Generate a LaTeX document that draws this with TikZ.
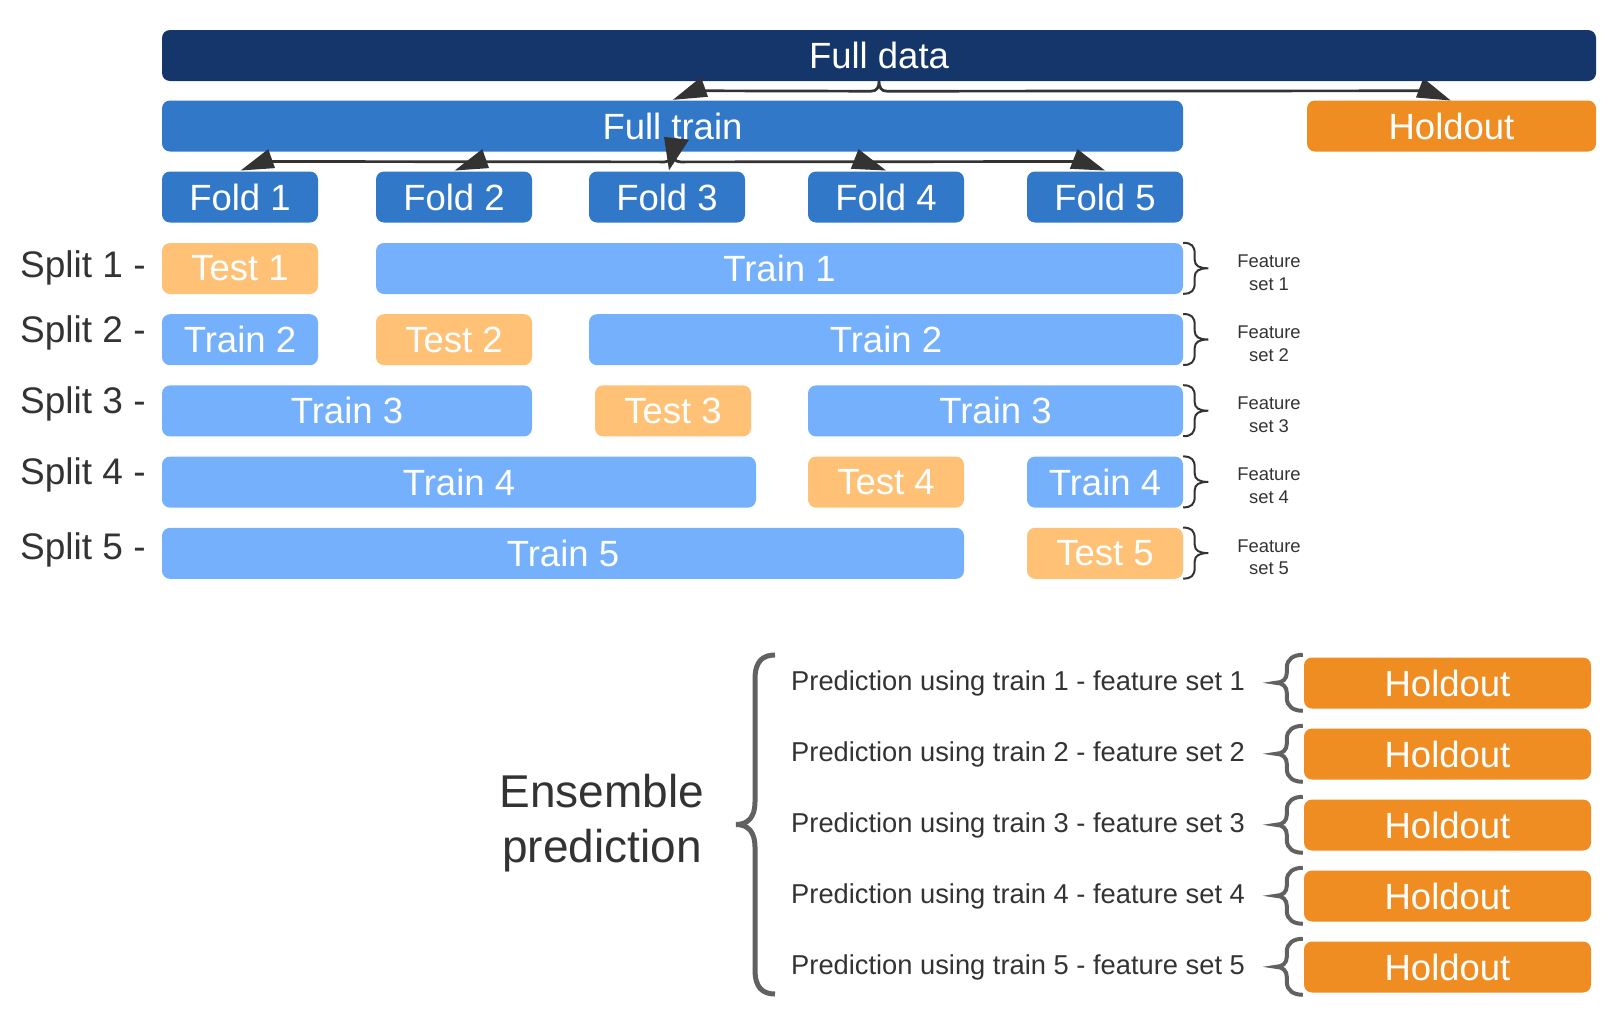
\documentclass[tikz,border=0pt]{standalone}
\usepackage{fontspec}
\setmainfont{Liberation Sans}
\usetikzlibrary{positioning, calc}

\definecolor{DataBlue}{HTML}{14366A}
\definecolor{TrainBlue}{HTML}{3278C9}
\definecolor{SplitBlue}{HTML}{74B0FC}
\definecolor{TestOrange}{HTML}{FFC175}
\definecolor{HoldOrange}{HTML}{EF8D22}
\definecolor{InkGrey}{HTML}{333333}
\definecolor{BraceGrey}{HTML}{616161}

\begin{document}
\begin{tikzpicture}[
		x=1pt, y=-1pt,
		BoxCfg/.style={
			rounded corners=8pt,
			minimum height=51pt,
			inner sep=0pt,
			text=white,
			font=\fontsize{36.5}{40}\selectfont
		},
		DataCfg/.style={BoxCfg, fill=DataBlue},
		FoldCfg/.style={BoxCfg, fill=TrainBlue, minimum width=156pt},
		TrainCfg/.style={BoxCfg, fill=SplitBlue, minimum width=156pt},
		TestCfg/.style={BoxCfg, fill=TestOrange, minimum width=156pt},
		HoldCfg/.style={BoxCfg, fill=HoldOrange},
		LabelCfg/.style={anchor=base west, inner sep=0pt, text=InkGrey, font=\fontsize{37}{40}\selectfont},
		FeatCfg/.style={align=center, inner sep=0pt, text=InkGrey, font=\fontsize{18.4}{22.7}\selectfont},
		PredCfg/.style={anchor=base west, inner sep=0pt, text=InkGrey, font=\fontsize{27.3}{32}\selectfont},
		LinkCfg/.style={draw=InkGrey, line width=2.7pt},
		HeadCfg/.style={fill=InkGrey},
		RBrace/.pic={
			\draw[InkGrey, line width=2pt] (0,0) .. controls (8,0) and (11.5,3) .. (11.5,11) -- (11.5,17)
			.. controls (11.5,23) and (16,25.5) .. (25,25.5) .. controls (16,25.5) and (11.5,28) .. (11.5,34)
			-- (11.5,40) .. controls (11.5,48) and (8,51) .. (0,51);
		},
		LBrace/.pic={
			\draw[BraceGrey, line width=4pt] (0,0) .. controls (-9,0) and (-16,4) .. (-16,13) -- (-16,18)
			.. controls (-16,24) and (-20,28) .. (-27,28) .. controls (-20,28) and (-16,32) .. (-16,38)
			-- (-16,43) .. controls (-16,52) and (-9,56) .. (0,56);
		}
		]
		
		\useasboundingbox (0,0) rectangle (1620,1010);
		
		\path
		(879,55.5) node [DataCfg, minimum width=1434pt] (FULLDATA) {Full data}
		(672.5,126) node [FoldCfg, minimum width=1021pt] (FULLTRAIN) {Full train}
		(1451.5,126) node [HoldCfg, minimum width=289pt] (HOLDOUT) {Holdout};
		
		\foreach \x [count=\i] in {240,454,667,886,1105}
		\node [FoldCfg] (FOLD\i) at (\x,197) {Fold \i};
		
		% the five splits
		\path
		(240,268.5) node [TestCfg] (TEST1) {Test 1}
		(779.5,268.5) node [TrainCfg, minimum width=807pt] (TRAIN1) {Train 1}
		
		(240,339.7) node [TrainCfg] (TRAIN2A) {Train 2}
		(454,339.7) node [TestCfg] (TEST2) {Test 2}
		(886,339.7) node [TrainCfg, minimum width=594pt] (TRAIN2B) {Train 2}
		
		(347,410.9) node [TrainCfg, minimum width=370pt] (TRAIN3A) {Train 3}
		(673,410.9) node [TestCfg] (TEST3) {Test 3}
		(995.5,410.9) node [TrainCfg, minimum width=375pt] (TRAIN3B) {Train 3}
		
		(459,482.1) node [TrainCfg, minimum width=594pt] (TRAIN4A) {Train 4}
		(886,482.1) node [TestCfg] (TEST4) {Test 4}
		(1105,482.1) node [TrainCfg] (TRAIN4B) {Train 4}
		
		(563,553.3) node [TrainCfg, minimum width=802pt] (TRAIN5) {Train 5}
		(1105,553.3) node [TestCfg] (TEST5) {Test 5};
		
		\foreach \y [count=\i] in {277.5,342.5,413.5,484.5,559.5}
		\node [LabelCfg] (SPLIT\i) at (20,\y) {Split \i{} -};
		
		\foreach \y [count=\i] in {268.5,339.7,410.9,482.1,553.3}
		\node [FeatCfg] (FEAT\i) at (1269,\y+4) {Feature\\set \i};
		
		\foreach \n in {TRAIN1,TRAIN2B,TRAIN3B,TRAIN4B,TEST5}
		\pic at (\n.north east) {RBrace};
		
		% ensemble of the holdout predictions
		\foreach \y [count=\i] in {683,754,825,896,967} {
			\node [HoldCfg, minimum width=287pt] (HOLD\i) at (1447.5,\y) {Holdout};
			\node [PredCfg] (PRED\i) at (791,\y+7.3) {Prediction using train \i{} - feature set \i};
			\pic at ($(HOLD\i.north west)+(-1,-2.5)$) {LBrace};
		}
		
		\node [align=center, inner sep=0pt, text=InkGrey, font=\fontsize{46}{55}\selectfont]
		(ENSEMBLE) at (602,823) {Ensemble\\prediction};
		
		\draw [BraceGrey, line width=5pt]
		(775,655) .. controls (763,655) and (755,661) .. (755,679)
		-- (755,802) .. controls (755,817) and (748,824.5) .. (736,824.5)
		.. controls (748,824.5) and (755,832) .. (755,847)
		-- (755,970) .. controls (755,988) and (763,994) .. (775,994);
		
		% full data -> full train, holdout
		\coordinate (DATAL) at ($(FULLTRAIN.north)+(32.5,-9.5)$);
		\coordinate (DATAR) at ($(HOLDOUT.north)+(-31.5,-9.5)$);
		\draw [LinkCfg]
		(DATAL) -- ($(FULLDATA.south)+(-8,10)$)
		.. controls ($(FULLDATA.south)+(-2,10)$) and ($(FULLDATA.south)+(0,6)$) .. (FULLDATA.south)
		.. controls ($(FULLDATA.south)+(0,6)$) and ($(FULLDATA.south)+(2,10)$) .. ($(FULLDATA.south)+(8,10)$)
		-- (DATAR);
		\fill [HeadCfg] ($(FULLTRAIN.north)+(0.5,-0.5)$) -- ($(FULLTRAIN.north)+(28.5,-23.2)$) -- ($(FULLTRAIN.north)+(35.5,-3.5)$) -- cycle;
		\fill [HeadCfg] ($(HOLDOUT.north)+(-0.8,0.2)$) -- ($(HOLDOUT.north)+(-28.2,-22.2)$) -- ($(HOLDOUT.north)+(-35.5,-2.8)$) -- cycle;
		
		% full train -> folds
		\coordinate (TRAINL) at ($(FOLD1.north)+(32,-9.8)$);
		\coordinate (TRAINR) at ($(FOLD5.north)+(-27,-9.8)$);
		\draw [LinkCfg]
		(TRAINL) -- ($(FULLTRAIN.south)+(-8,10.2)$)
		.. controls ($(FULLTRAIN.south)+(-2,10.2)$) and ($(FULLTRAIN.south)+(0,6)$) .. (FULLTRAIN.south)
		.. controls ($(FULLTRAIN.south)+(0,6)$) and ($(FULLTRAIN.south)+(2,10.2)$) .. ($(FULLTRAIN.south)+(8,10.2)$)
		-- (TRAINR);
		\foreach \n in {FOLD1,FOLD2}
		\fill [HeadCfg] ($(\n.north)+(0.7,-0.8)$) -- ($(\n.north)+(28.3,-22.2)$) -- ($(\n.north)+(35,-3.2)$) -- cycle;
		\foreach \n in {FOLD4,FOLD5}
		\fill [HeadCfg] ($(\n.north)+(0,-0.8)$) -- ($(\n.north)+(-27.5,-22.2)$) -- ($(\n.north)+(-35.2,-2.5)$) -- cycle;
		\fill [HeadCfg] ($(FOLD3.north)+(-3,-34.5)$) -- ($(FOLD3.north)+(22,-31.5)$) -- ($(FOLD3.north)+(2,-1)$) -- cycle;
		
\end{tikzpicture}
\end{document}
